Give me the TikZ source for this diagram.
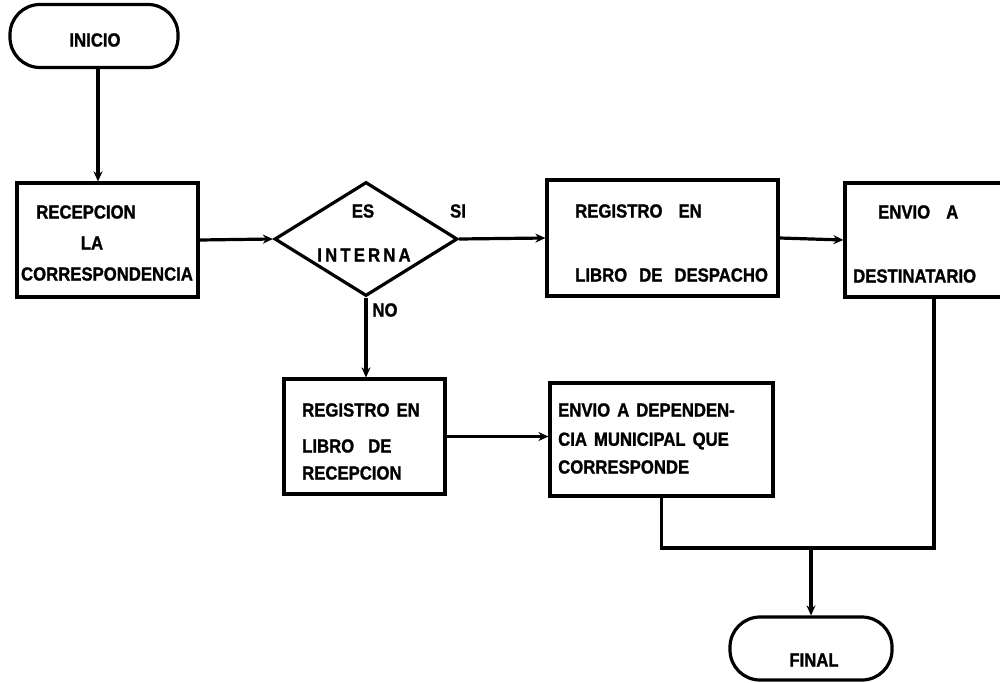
\documentclass[tikz,border=0pt]{standalone}
\usepackage{fontspec}
\setmainfont{Liberation Sans}
\newfontfamily\lblfont{Liberation Sans}[FakeStretch=0.88,FakeBold=1.2]
\usetikzlibrary{shapes.geometric,arrows.meta}
\begin{document}
\begin{tikzpicture}[x=1pt,y=-1pt,
  box/.style={draw,line width=3.2pt,inner sep=0pt,rectangle},
  term/.style={box,rounded corners=30pt},
  lbl/.style={inner sep=0pt,font=\lblfont\fontsize{19}{22}\selectfont\bfseries},
  flow/.style={line width=3.2pt},
  arr/.style={flow,-{Stealth[length=10pt,width=9pt]}}]
\useasboundingbox (0,0) rectangle (1000,682);
\clip (0,0) rectangle (1000,682);
\fill[white] (0,0) rectangle (1000,682);

% shapes
\node[term,minimum width=168pt,minimum height=63pt] (inicio) at (94,36) {};
\node[box,minimum width=181pt,minimum height=114pt] (recep) at (107.5,240) {};
\node[draw,line width=3.2pt,diamond,inner sep=0pt,minimum width=183pt,minimum height=114pt] (dec) at (366,239) {};
\node[box,minimum width=231pt,minimum height=116pt] (desp) at (662.5,238) {};
\node[box,minimum width=165pt,minimum height=114pt] (dest) at (927.5,240) {};
\node[box,minimum width=161pt,minimum height=115pt] (rrec) at (364.5,436.5) {};
\node[box,minimum width=223pt,minimum height=113pt] (dep) at (661.5,439.5) {};
\node[term,minimum width=162pt,minimum height=63pt] (final) at (811,648.5) {};

% texts
\node[lbl] (tinicio) at (95,40) {INICIO};
\node[lbl] (tr1) at (86,212) {RECEPCION};
\node[lbl] (tr2) at (92,243) {LA};
\node[lbl] (tr3) at (107,274) {CORRESPONDENCIA};
\node[lbl] (tes) at (363,211) {ES};
\node[lbl] (tint) at (364,255) {I\,N\,T\,E\,R\,N\,A};
\node[lbl] (tsi) at (458,211) {SI};
\node[lbl] (tno) at (385,310) {NO};
\node[lbl,anchor=west] (td1) at (575,211) {REGISTRO\hspace{16pt}EN};
\node[lbl,anchor=west] (td2) at (575,275) {LIBRO\hspace{12pt}DE\hspace{12pt}DESPACHO};
\node[lbl,anchor=west] (te1) at (878,212) {ENVIO\hspace{16pt}A};
\node[lbl,anchor=west] (te2) at (853,276) {DESTINATARIO};
\node[lbl,anchor=west] (tg1) at (302,410) {REGISTRO\hspace{7pt}EN};
\node[lbl,anchor=west] (tg2) at (302,446) {LIBRO\hspace{14pt}DE};
\node[lbl,anchor=west] (tg3) at (302,473) {RECEPCION};
\node[lbl,anchor=west] (tp1) at (558,410) {ENVIO\hspace{7pt}A\hspace{7pt}DEPENDEN-};
\node[lbl,anchor=west] (tp2) at (558,441) {CIA\hspace{7pt}MUNICIPAL\hspace{7pt}QUE};
\node[lbl,anchor=west] (tp3) at (558,467) {CORRESPONDE};
\node[lbl] (tfinal) at (814,660) {FINAL};

% connectors
\coordinate (c1) at (98,0);
\coordinate (m) at (934,548);
\draw[arr] (inicio.south -| c1) -- (recep.north -| c1);
\draw[arr] (recep.east) -- (dec.west);
\draw[arr] (dec.east) -- (desp.west);
\draw[arr] (desp.east) -- (dest.west);
\draw[arr] (dec.south) -- (rrec.north -| dec.south);
\draw[arr] (rrec.east) -- (rrec.east -| dep.west);
\draw[flow] (dest.south -| m) -- (m) -- (dep.south |- m) -- (dep.south);
\draw[arr] (final.north |- m) -- (final.north);
\end{tikzpicture}
\end{document}
